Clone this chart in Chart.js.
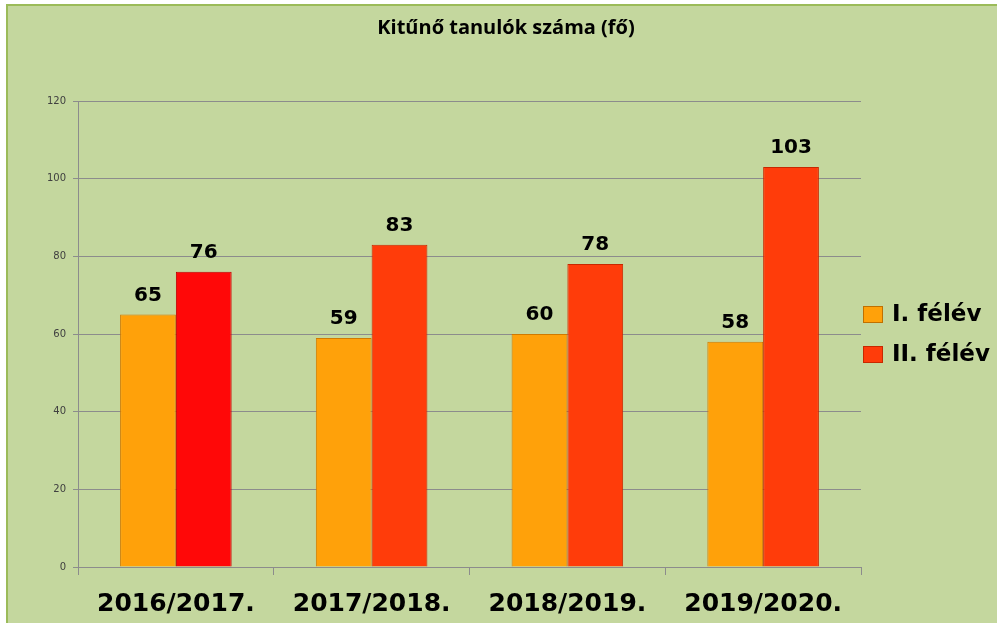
<!DOCTYPE html>
<html>
<head>
<meta charset="utf-8">
<script src="https://cdn.jsdelivr.net/npm/chart.js@4/dist/chart.umd.min.js"></script>
<style>
  html, body { margin: 0; padding: 0; background: #ffffff; }
  #wrap { width: 997px; height: 623px; position: relative; }
</style>
</head>
<body>
<div id="wrap"><canvas id="c" width="997" height="623"></canvas></div>
<script>
const chartTitle = 'Kitűnő tanulók száma (fő)';
const categories = ['2016/2017.', '2017/2018.', '2018/2019.', '2019/2020.'];
const seriesNames = ['I. félév', 'II. félév'];
const firstHalf = [65, 59, 60, 58];
const secondHalf = [76, 83, 78, 103];
const yTicks = [0, 20, 40, 60, 80, 100, 120];

const GREEN = '#c4d79e';
const BORDER_GREEN = '#9bbb59';

const backgroundPlugin = {
  id: 'bg',
  beforeDraw(chart) {
    const ctx = chart.ctx;
    ctx.save();
    ctx.fillStyle = '#ffffff';
    ctx.fillRect(0, 0, chart.width, chart.height);
    ctx.fillStyle = GREEN;
    ctx.fillRect(7, 5, chart.width - 7, chart.height - 5);
    ctx.fillStyle = BORDER_GREEN;
    ctx.fillRect(7, 4, chart.width - 7, 2);
    ctx.fillRect(6, 4, 2, chart.height - 4);
    ctx.restore();
  }
};

const titlePlugin = {
  id: 'topTitle',
  afterDraw(chart) {
    const ctx = chart.ctx;
    ctx.save();
    ctx.font = 'bold 20px "Open Sans"';
    ctx.fillStyle = '#000000';
    ctx.textAlign = 'center';
    ctx.textBaseline = 'middle';
    ctx.fillText(chartTitle, (7 + chart.width) / 2 + 4, 28);
    ctx.restore();
  }
};

const valueLabelPlugin = {
  id: 'valueLabels',
  afterDatasetsDraw(chart) {
    const ctx = chart.ctx;
    ctx.save();
    ctx.font = 'bold 20px "DejaVu Sans"';
    ctx.fillStyle = '#000000';
    ctx.textAlign = 'center';
    ctx.textBaseline = 'middle';
    chart.data.datasets.forEach((ds, di) => {
      const meta = chart.getDatasetMeta(di);
      meta.data.forEach((bar, i) => {
        ctx.fillText(String(ds.data[i]), bar.x, bar.y - 19);
      });
    });
    ctx.restore();
  }
};

const legendPlugin = {
  id: 'sideLegend',
  afterDraw(chart) {
    const ctx = chart.ctx;
    const area = chart.chartArea;
    const cy = (area.top + area.bottom) / 2;
    const rows = chart.data.datasets.length;
    const spacing = 40;
    ctx.save();
    ctx.font = 'bold 23px "DejaVu Sans"';
    ctx.textBaseline = 'middle';
    ctx.textAlign = 'left';
    chart.data.datasets.forEach((ds, i) => {
      const y = cy + (i - (rows - 1) / 2) * spacing;
      const x = area.right + 2;
      ctx.fillStyle = ds.legendColor;
      ctx.fillRect(x, y - 8, 20, 17);
      ctx.strokeStyle = ds.legendBorder;
      ctx.lineWidth = 1;
      ctx.strokeRect(x + 0.5, y - 7.5, 19, 16);
      ctx.fillStyle = '#000000';
      ctx.fillText(ds.label, x + 29, y + 1);
    });
    ctx.restore();
  }
};

new Chart(document.getElementById('c'), {
  type: 'bar',
  data: {
    labels: categories,
    datasets: [
      {
        label: seriesNames[0],
        data: firstHalf,
        backgroundColor: '#ffa10a',
        borderColor: '#d07a00',
        borderWidth: 1,
        legendColor: '#ffa10a',
        legendBorder: '#c07000'
      },
      {
        label: seriesNames[1],
        data: secondHalf,
        backgroundColor: ['#ff0808', '#ff3c0a', '#ff3c0a', '#ff3c0a'],
        borderColor: ['#c00000', '#c82800', '#c82800', '#c82800'],
        borderWidth: 1,
        legendColor: '#ff3c0a',
        legendBorder: '#c82800'
      }
    ]
  },
  options: {
    responsive: false,
    animation: false,
    devicePixelRatio: 1,
    layout: { padding: { left: 0, right: 136, top: 101, bottom: 0 } },
    datasets: {
      bar: { categoryPercentage: 0.57, barPercentage: 1.0 }
    },
    plugins: {
      legend: { display: false },
      tooltip: { enabled: false },
      title: { display: false }
    },
    scales: {
      x: {
        grid: {
          display: true,
          drawOnChartArea: false,
          drawTicks: true,
          tickLength: 8,
          offset: true,
          color: '#8c8c8c'
        },
        border: { display: true, color: '#8c8c8c', width: 1 },
        ticks: {
          color: '#000000',
          font: { family: '"DejaVu Sans"', size: 25, weight: 'bold' },
          padding: 14,
          maxRotation: 0
        },
        afterFit(scale) { scale.height = 56; }
      },
      y: {
        min: 0,
        max: 120,
        afterBuildTicks(scale) { scale.ticks = yTicks.map(v => ({ value: v })); },
        grid: {
          color: '#8c8c8c',
          lineWidth: 1,
          drawTicks: true,
          tickLength: 5
        },
        border: { display: true, color: '#8c8c8c', width: 1 },
        ticks: {
          color: '#404040',
          font: { family: '"DejaVu Sans"', size: 10 },
          padding: 7
        },
        afterFit(scale) { scale.width = 78; }
      }
    }
  },
  plugins: [backgroundPlugin, valueLabelPlugin, legendPlugin, titlePlugin]
});
</script>
</body>
</html>
